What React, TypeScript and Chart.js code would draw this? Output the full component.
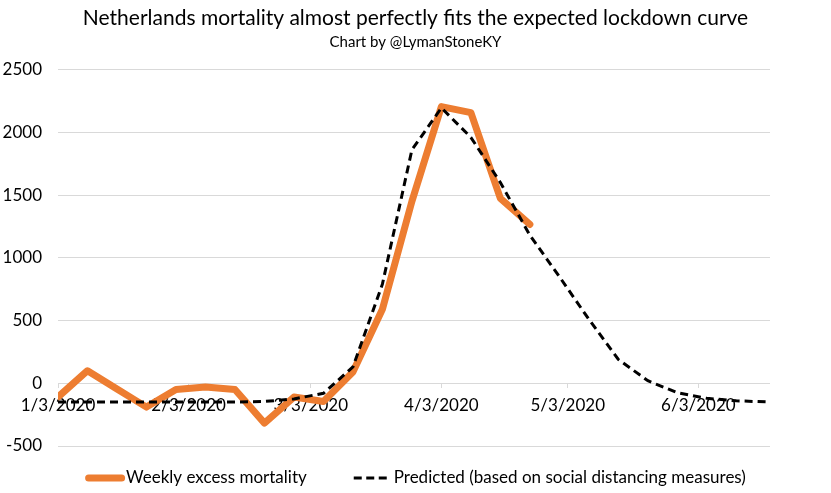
import { useEffect, useRef } from "react";
import { Chart, registerables } from "chart.js";

Chart.register(...registerables);

const TITLE = "Netherlands mortality almost perfectly fits the expected lockdown curve";
const SUBTITLE = "Chart by @LymanStoneKY";
const SERIES_NAMES = ["Weekly excess mortality", "Predicted (based on social distancing measures)"];
const SERIES_COLORS = ["#ED7D31", "#000000"];

const AXIS_START = "2020-01-03";
const AXIS_END = "2020-06-20";
const X_TICK_DATES = ["2020-01-03", "2020-02-03", "2020-03-03", "2020-04-03", "2020-05-03", "2020-06-03"];
const Y_MIN = -500;
const Y_MAX = 2500;
const Y_STEP = 500;

const EXCESS_WEEKS = [
  "2020-01-03", "2020-01-10", "2020-01-17", "2020-01-24", "2020-01-31", "2020-02-07",
  "2020-02-14", "2020-02-21", "2020-02-28", "2020-03-06", "2020-03-13", "2020-03-20",
  "2020-03-27", "2020-04-03", "2020-04-10", "2020-04-17", "2020-04-24",
];
const EXCESS_VALUES = [-110, 100, -45, -190, -50, -30, -50, -318, -110, -145, 90, 590, 1450, 2205, 2157, 1473, 1266];

const PREDICTED_WEEKS = [
  "2020-01-03", "2020-01-10", "2020-01-17", "2020-01-24", "2020-01-31", "2020-02-07",
  "2020-02-14", "2020-02-21", "2020-02-28", "2020-03-06", "2020-03-13", "2020-03-20",
  "2020-03-27", "2020-04-03", "2020-04-10", "2020-04-17", "2020-04-24", "2020-05-01",
  "2020-05-08", "2020-05-15", "2020-05-22", "2020-05-29", "2020-06-05", "2020-06-12",
  "2020-06-19",
];
const PREDICTED_VALUES = [
  -150, -150, -150, -150, -150, -150, -150, -145, -125, -80, 130, 790, 1860, 2195, 1960, 1600,
  1180, 850, 510, 190, 20, -75, -120, -140, -148,
];

const DAY_MS = 86400000;
const startMs = Date.parse(AXIS_START + "T00:00:00Z");
const toDay = (s: string) => Math.round((Date.parse(s + "T00:00:00Z") - startMs) / DAY_MS);
const fmtDay = (d: number) => {
  const dt = new Date(startMs + d * DAY_MS);
  return `${dt.getUTCMonth() + 1}/${dt.getUTCDate()}/${dt.getUTCFullYear()}`;
};

const FONT = "Lato, 'Open Sans', sans-serif";

const legendPlugin = {
  id: "customLegend",
  afterDraw(chart: any) {
    const ctx = chart.ctx as CanvasRenderingContext2D;
    const ds = chart.data.datasets;
    const fontSize = 17;
    ctx.save();
    ctx.font = `${fontSize}px ${FONT}`;
    const sampleW = [40, 33];
    const textGap = [1, 7];
    const itemGap = 47;
    const widths = ds.map((d: any, i: number) => sampleW[i] + textGap[i] + ctx.measureText(d.label).width);
    const total = widths.reduce((a: number, b: number) => a + b, 0) + itemGap * (ds.length - 1);
    let x = (chart.width - total) / 2;
    const y = 478;
    ds.forEach((d: any, i: number) => {
      ctx.beginPath();
      ctx.strokeStyle = d.borderColor;
      ctx.lineWidth = d.borderWidth;
      if (d.borderDash && d.borderDash.length) {
        ctx.setLineDash([8, 4.5]);
        ctx.lineCap = "butt";
        ctx.moveTo(x, y);
        ctx.lineTo(x + sampleW[i], y);
      } else {
        ctx.setLineDash([]);
        ctx.lineCap = "round";
        const r = d.borderWidth / 2;
        ctx.moveTo(x + r, y);
        ctx.lineTo(x + sampleW[i] - r, y);
      }
      ctx.stroke();
      ctx.setLineDash([]);
      ctx.fillStyle = "#000";
      ctx.textBaseline = "middle";
      ctx.textAlign = "left";
      ctx.fillText(d.label, x + sampleW[i] + textGap[i], y);
      x += widths[i] + itemGap;
    });
    ctx.restore();
  },
};

export default function App() {
  const ref = useRef<HTMLCanvasElement | null>(null);

  useEffect(() => {
    document.body.style.margin = "0";
    if (!ref.current) return;
    Chart.defaults.font.family = FONT;
    const xTicks = X_TICK_DATES.map(toDay);
    const chart = new Chart(ref.current, {
      type: "line",
      data: {
        datasets: [
          {
            label: SERIES_NAMES[0],
            data: EXCESS_WEEKS.map((w, i) => ({ x: toDay(w), y: EXCESS_VALUES[i] })),
            borderColor: SERIES_COLORS[0],
            backgroundColor: SERIES_COLORS[0],
            borderWidth: 7,
            borderCapStyle: "round",
            borderJoinStyle: "round",
            pointRadius: 0,
            tension: 0,
            order: 1,
          },
          {
            label: SERIES_NAMES[1],
            data: PREDICTED_WEEKS.map((w, i) => ({ x: toDay(w), y: PREDICTED_VALUES[i] })),
            borderColor: SERIES_COLORS[1],
            backgroundColor: SERIES_COLORS[1],
            borderWidth: 3,
            borderDash: [8, 5],
            pointRadius: 0,
            tension: 0,
            order: 0,
          },
        ],
      },
      options: {
        animation: false,
        responsive: true,
        maintainAspectRatio: false,
        layout: { padding: { left: 0, right: 0, top: 0, bottom: 47 } },
        plugins: {
          legend: { display: false },
          tooltip: { enabled: false },
          title: {
            display: true,
            text: TITLE,
            color: "#000",
            font: { size: 21, weight: "normal", family: FONT },
            padding: { top: 6, bottom: 2.4 },
          },
          subtitle: {
            display: true,
            text: SUBTITLE,
            color: "#000",
            font: { size: 15, weight: "normal", family: FONT },
            padding: { top: 0, bottom: 18 },
          },
        },
        scales: {
          x: {
            type: "linear",
            min: 0,
            max: toDay(AXIS_END),
            position: { y: 0 } as any,
            afterFit(scale: any) {
              scale.height = 0;
            },
            afterBuildTicks(scale: any) {
              scale.ticks = xTicks.map((v) => ({ value: v }));
            },
            grid: {
              drawOnChartArea: false,
              drawTicks: true,
              tickLength: 5,
              color: "#d9d9d9",
            },
            border: { display: false },
            ticks: {
              autoSkip: false,
              maxRotation: 0,
              padding: 7,
              color: "#000",
              font: { size: 17 },
              callback: (v: any) => fmtDay(Number(v)),
            },
          },
          y: {
            min: Y_MIN,
            max: Y_MAX,
            afterFit(scale: any) {
              scale.width = 58;
            },
            grid: { color: "#d9d9d9", drawTicks: false },
            border: { display: false },
            ticks: {
              stepSize: Y_STEP,
              padding: 16,
              color: "#000",
              font: { size: 17 },
              callback: (v: any) => String(v),
            },
          },
          yRight: {
            position: "right",
            min: Y_MIN,
            max: Y_MAX,
            afterFit(scale: any) {
              scale.width = 61;
            },
            grid: { display: false },
            border: { display: false },
            ticks: { display: false },
          },
        },
      },
      plugins: [legendPlugin],
    });
    return () => chart.destroy();
  }, []);

  return (
    <div style={{ position: "fixed", left: 0, top: 0, width: 831, height: 493 }}>
      <canvas ref={ref} />
    </div>
  );
}
